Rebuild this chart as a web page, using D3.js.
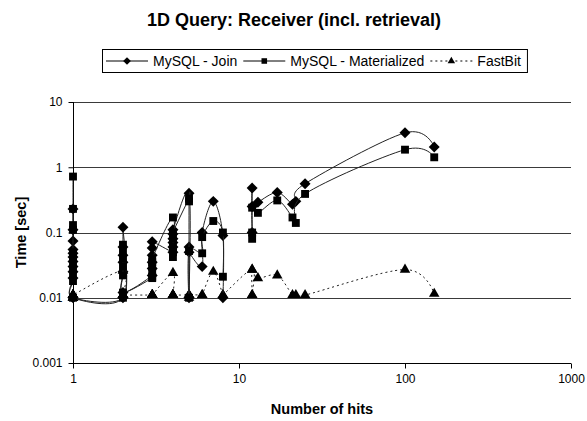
<!DOCTYPE html>
<html>
<head>
<meta charset="utf-8">
<script src="https://cdn.jsdelivr.net/npm/d3@7"></script>
<style>
    body { margin: 0; background: #fff; }
    svg { display: block; font-family: Arial, "Liberation Sans", sans-serif; }
</style>
</head>
<body>
<div id="plot"></div>
<script>
// Number of hits per query (rows of the sheet, sorted by hits).
var hits = [
    1, 1, 1, 1, 1, 1, 1, 1, 1, 1, 1,
    2, 2, 2, 2, 2, 2, 2,
    3, 3, 3, 3, 3, 3,
    4, 4, 4, 4, 4, 4,
    5, 5, 5, 5,
    6, 6,
    7,
    8, 8,
    12, 12, 12, 12,
    13, 17, 21, 22, 25, 100, 150
];

// Times in seconds, null = no value (gap in the line).
var mysql_join = [
    0.23, 0.11, 0.074, 0.055, 0.048, 0.042, 0.036, 0.03, 0.025, 0.02, 0.01,
    0.01, 0.12, 0.06, 0.045, 0.035, 0.025, 0.012,
    0.022, 0.028, 0.035, 0.045, 0.058, 0.072,
    0.05, 0.06, 0.07, 0.08, 0.095, 0.11,
    0.4, 0.01, 0.06, 0.05,
    0.03, 0.1,
    0.3,
    0.09, 0.01,
    null, 0.1, 0.48, 0.25,
    0.29, 0.41, 0.27, 0.3, 0.56, 3.37, 2.05
];

var mysql_mat = [
    0.72, 0.23, 0.13, 0.11, 0.05, 0.04, 0.034, 0.028, 0.022, 0.018, 0.01,
    0.01, 0.065, 0.05, 0.04, 0.03, 0.022, 0.012,
    0.02, 0.021, 0.025, 0.03, 0.035, 0.04,
    0.17, 0.042, 0.05, 0.06, 0.08, 0.1,
    0.33, 0.3, 0.01, 0.052,
    0.048, 0.085,
    0.15,
    0.1, 0.021,
    null, 0.08, 0.1, 0.24,
    0.2, 0.31, 0.17, 0.14, 0.39, 1.86, 1.42
];

var fastbit = [
    0.011, 0.01, 0.011, 0.01, 0.011, 0.01, 0.011, 0.01, 0.011, 0.01, 0.011,
    0.026, 0.011, 0.011, 0.011, 0.011, 0.011, 0.011,
    0.011, 0.011, 0.011, 0.011, 0.011, 0.011,
    0.024, 0.011, 0.011, 0.011, 0.011, 0.011,
    0.011, 0.011, 0.01, 0.011,
    0.011, 0.011,
    0.025,
    0.011, 0.011,
    0.027, 0.011, 0.011, 0.027,
    0.02, 0.022, 0.011, 0.011, 0.011, 0.027, 0.0115
];

var series_names = ["MySQL - Join", "MySQL - Materialized", "FastBit"];
var x_ticks = [1, 10, 100, 1000];
var y_ticks = [0.001, 0.01, 0.1, 1, 10];
var y_tick_labels = ["0.001", "0.01", "0.1", "1", "10"];

var width = 587, height = 421;
// NOTE: "top" is taken by window.top, so plot_* names.
var plot_left = 73, plot_right = 571, plot_top = 102, plot_bottom = 363;

var svg = d3.select("div#plot").append("svg")
    .attr("width", width)
    .attr("height", height)
    .attr("viewBox", "0 0 " + width + " " + height);

var x_scale = d3.scaleLog().domain([1, 1000]).range([plot_left, plot_right]);
var y_scale = d3.scaleLog().domain([0.001, 10]).range([plot_bottom, plot_top]);

// Square diamond like Excel's (d3's symbolDiamond is too tall).
var excel_diamond = {
    draw: function(context, size) {
        var r = Math.sqrt(size / 2);
        context.moveTo(0, -r);
        context.lineTo(r, 0);
        context.lineTo(0, r);
        context.lineTo(-r, 0);
        context.closePath();
    }
};

// Gridlines (one per decade).
svg.append("g")
    .attr("id", "grid")
    .selectAll("line")
    .data(y_ticks.slice(1))
    .join("line")
        .attr("x1", plot_left)
        .attr("x2", plot_right)
        .attr("y1", d => Math.round(y_scale(d)) + 0.5)
        .attr("y2", d => Math.round(y_scale(d)) + 0.5)
        .style("stroke", "#3a3a3a")
        .style("stroke-width", 1);

// Axes.
var g_x_axis = svg.append("g")
    .attr("id", "x_axis")
    .attr("transform", "translate(0, " + (plot_bottom + 0.5) + ")")
    .call(d3.axisBottom(x_scale).tickValues(x_ticks).tickFormat(d3.format("d")).tickSize(5).tickPadding(6));

var g_y_axis = svg.append("g")
    .attr("id", "y_axis")
    .attr("transform", "translate(" + (plot_left + 0.5) + ", 0)")
    .call(d3.axisLeft(y_scale).tickValues(y_ticks).tickFormat((d, i) => y_tick_labels[i]).tickSize(5).tickPadding(6));

[g_x_axis, g_y_axis].forEach(function(g) {
    g.select(".domain").style("stroke", "#000");
    g.selectAll(".tick line").style("stroke", "#000");
    g.selectAll(".tick text")
        .style("font-family", "Arial, 'Liberation Sans', sans-serif")
        .style("font-size", "12px")
        .style("fill", "#000");
});
// Plain axis lines, no d3 end-caps.
g_x_axis.select(".domain").attr("d", "M" + plot_left + ",0H" + plot_right);
g_y_axis.select(".domain").attr("d", "M0," + plot_top + "V" + plot_bottom);

// Titles.
svg.append("text")
    .attr("x", 294)
    .attr("y", 26)
    .attr("text-anchor", "middle")
    .style("font-size", "18px")
    .style("font-weight", "bold")
    .text("1D Query: Receiver (incl. retrieval)");

svg.append("text")
    .attr("x", (plot_left + plot_right) / 2)
    .attr("y", 414)
    .attr("text-anchor", "middle")
    .style("font-size", "14.5px")
    .style("font-weight", "bold")
    .text("Number of hits");

svg.append("text")
    .attr("transform", "translate(26, " + ((plot_top + plot_bottom) / 2) + ") rotate(-90)")
    .attr("text-anchor", "middle")
    .style("font-size", "14.5px")
    .style("font-weight", "bold")
    .text("Time [sec]");

// Series.
var series = [
    { name: series_names[0], values: mysql_join, symbol: excel_diamond, size: 60, dash: null },
    { name: series_names[1], values: mysql_mat, symbol: d3.symbolSquare, size: 62, dash: null },
    { name: series_names[2], values: fastbit, symbol: d3.symbolTriangle, size: 48, dash: "2,3" }
];

var line = d3.line()
    .defined(d => d.t != null)
    .x(d => x_scale(d.h))
    .y(d => y_scale(d.t))
    .curve(d3.curveCatmullRom.alpha(0));

var g_lines = svg.append("g").attr("id", "lines");

// FastBit first so the MySQL markers sit on top of it.
[series[2], series[0], series[1]].forEach(function(s) {
    var pts = hits.map((h, i) => ({ h: h, t: s.values[i] }));

    g_lines.append("path")
        .datum(pts)
        .attr("d", line)
        .style("fill", "none")
        .style("stroke", "#222")
        .style("stroke-width", 1)
        .style("stroke-dasharray", s.dash);

    g_lines.append("g")
        .selectAll("path")
        .data(pts.filter(d => d.t != null))
        .join("path")
            .attr("transform", d => "translate(" + x_scale(d.h) + "," + y_scale(d.t) + ")")
            .attr("d", d3.symbol().type(s.symbol).size(s.size))
            .style("fill", "#000");
});

// Legend.
var g_legend = svg.append("g").attr("id", "legend");
var legend_box = g_legend.append("rect")
    .attr("y", 49.5)
    .attr("height", 23)
    .style("fill", "#fff")
    .style("stroke", "#000");

var lx = 106;
series.forEach(function(s) {
    g_legend.append("line")
        .attr("x1", lx).attr("x2", lx + 42)
        .attr("y1", 61).attr("y2", 61)
        .style("stroke", "#000")
        .style("stroke-dasharray", s.dash);
    g_legend.append("path")
        .attr("transform", "translate(" + (lx + 21) + ",61)")
        .attr("d", d3.symbol().type(s.symbol).size(s.size * 0.5))
        .style("fill", "#000");
    var t = g_legend.append("text")
        .attr("x", lx + 47)
        .attr("y", 66)
        .style("font-size", "14px")
        .text(s.name);
    lx += 47 + t.node().getComputedTextLength() + 6;
});
legend_box.attr("x", 102.5).attr("width", lx - 102);
</script>
</body>
</html>
